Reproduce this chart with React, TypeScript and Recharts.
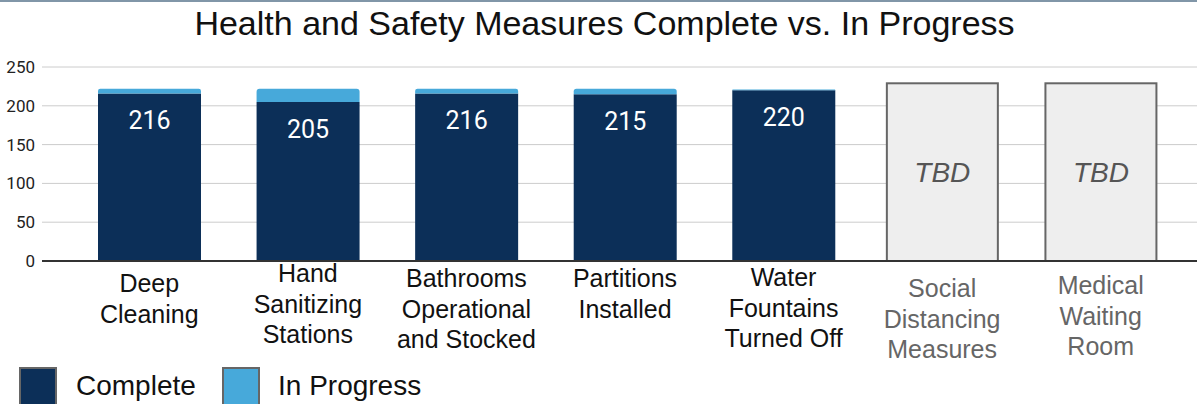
import React from 'react';
import { BarChart, Bar, XAxis, YAxis, CartesianGrid, LabelList } from 'recharts';

// chart values
const categories = [
  'Deep Cleaning',
  'Hand Sanitizing Stations',
  'Bathrooms Operational and Stocked',
  'Partitions Installed',
  'Water Fountains Turned Off',
  'Social Distancing Measures',
  'Medical Waiting Room',
];
const tickLines = [
  ['Deep', 'Cleaning'],
  ['Hand', 'Sanitizing', 'Stations'],
  ['Bathrooms', 'Operational', 'and Stocked'],
  ['Partitions', 'Installed'],
  ['Water', 'Fountains', 'Turned Off'],
  ['Social', 'Distancing', 'Measures'],
  ['Medical', 'Waiting', 'Room'],
];
const completeValues = [216, 205, 216, 215, 220, null, null];
const inProgressValues = [6, 17, 6, 7, 1, null, null];
const tbdValues = [null, null, null, null, null, 229, 229];
const yTicks = [0, 50, 100, 150, 200, 250];
const seriesNames = ['Complete', 'In Progress'];
const tbdText = 'TBD';

// styles
const COMPLETE = '#0c2f58';
const IN_PROGRESS = '#47a9da';
const colors = [COMPLETE, IN_PROGRESS];
const tickBaseline = [31, 21, 26, 26, 25, 36, 33]; // first-line drop below axis
const ARIAL = '"Liberation Sans", Arial, sans-serif';

const data = categories.map((name, i) => ({
  name,
  complete: completeValues[i],
  inProgress: inProgressValues[i],
  tbd: tbdValues[i],
}));

const CategoryTick = (props: any) => {
  const { x, y, payload } = props;
  const i = payload.index;
  const pending = tbdValues[i] != null;
  return (
    <text
      x={x}
      y={y + tickBaseline[i]}
      textAnchor="middle"
      fontFamily={ARIAL}
      fontSize={25}
      fill={pending ? '#666' : '#111'}
    >
      {tickLines[i].map((line, k) => (
        <tspan key={k} x={x} dy={k === 0 ? 0 : 30.5}>{line}</tspan>
      ))}
    </text>
  );
};

const TbdShape = (props: any) => {
  const { x, y, width, height } = props;
  if (!height) return null;
  return <rect x={x - 4} y={y} width={width + 8} height={height} fill="#eeeeee" stroke="#666" strokeWidth={2} />;
};

const CompleteLabel = (props: any) => {
  const { x, y, width, value } = props;
  if (value == null) return null;
  return (
    <text x={x + width / 2} y={y + 36} textAnchor="middle" fill="#fff" fontFamily="Roboto" fontSize={25}>
      {value}
    </text>
  );
};

const TbdLabel = (props: any) => {
  const { x, y, width, height, value } = props;
  if (value == null) return null;
  return (
    <text x={x + width / 2} y={y + height / 2 + 10} textAnchor="middle" fill="#555"
      fontFamily={ARIAL} fontStyle="italic" fontSize={28}>
      {tbdText}
    </text>
  );
};

export default function App() {
  return (
    <div style={{ position: 'absolute', left: 0, top: 0, width: 1197, height: 404, overflow: 'hidden', background: '#fff' }}>
      <div style={{ position: 'absolute', left: 0, top: 0, width: 1197, height: 2, background: '#8196a8' }} />
      <div style={{
        position: 'absolute', left: 0, top: 6, width: 1209, textAlign: 'center',
        fontFamily: ARIAL, fontSize: 34, lineHeight: '34px', color: '#111',
      }}>
        Health and Safety Measures Complete vs. In Progress
      </div>
      <BarChart width={1197} height={404} data={data} margin={{ top: 67, right: 0, bottom: 0, left: 0 }} barSize={103}>
        <CartesianGrid horizontal vertical={false} stroke="#cccccc" />
        <XAxis
          dataKey="name"
          height={143}
          interval={0}
          tickLine={false}
          tickSize={0}
          tickMargin={0}
          axisLine={{ stroke: '#333', strokeWidth: 2 }}
          padding={{ left: 28, right: 17 }}
          tick={<CategoryTick />}
        />
        <YAxis
          width={42}
          domain={[0, 250]}
          ticks={yTicks}
          axisLine={false}
          tickLine={false}
          tickSize={0}
          tickMargin={7}
          tick={{ fontFamily: 'Roboto', fontSize: 17, fill: '#222' }}
        />
        <Bar dataKey="complete" stackId="a" fill={COMPLETE} isAnimationActive={false}>
          <LabelList dataKey="complete" content={<CompleteLabel />} />
        </Bar>
        <Bar dataKey="inProgress" stackId="a" fill={IN_PROGRESS} radius={[3, 3, 0, 0]} isAnimationActive={false} />
        <Bar dataKey="tbd" stackId="a" shape={<TbdShape />} isAnimationActive={false}>
          <LabelList dataKey="tbd" content={<TbdLabel />} />
        </Bar>
      </BarChart>
      {seriesNames.map((name, i) => (
        <React.Fragment key={name}>
          <div style={{
            position: 'absolute', left: i === 0 ? 19 : 222, top: 367, width: 34, height: 40,
            background: colors[i], border: '2px solid #666',
          }} />
          <div style={{
            position: 'absolute', left: i === 0 ? 76 : 278, top: 372,
            fontFamily: ARIAL, fontSize: 28, lineHeight: '28px', color: '#111', whiteSpace: 'nowrap',
          }}>
            {name}
          </div>
        </React.Fragment>
      ))}
    </div>
  );
}
